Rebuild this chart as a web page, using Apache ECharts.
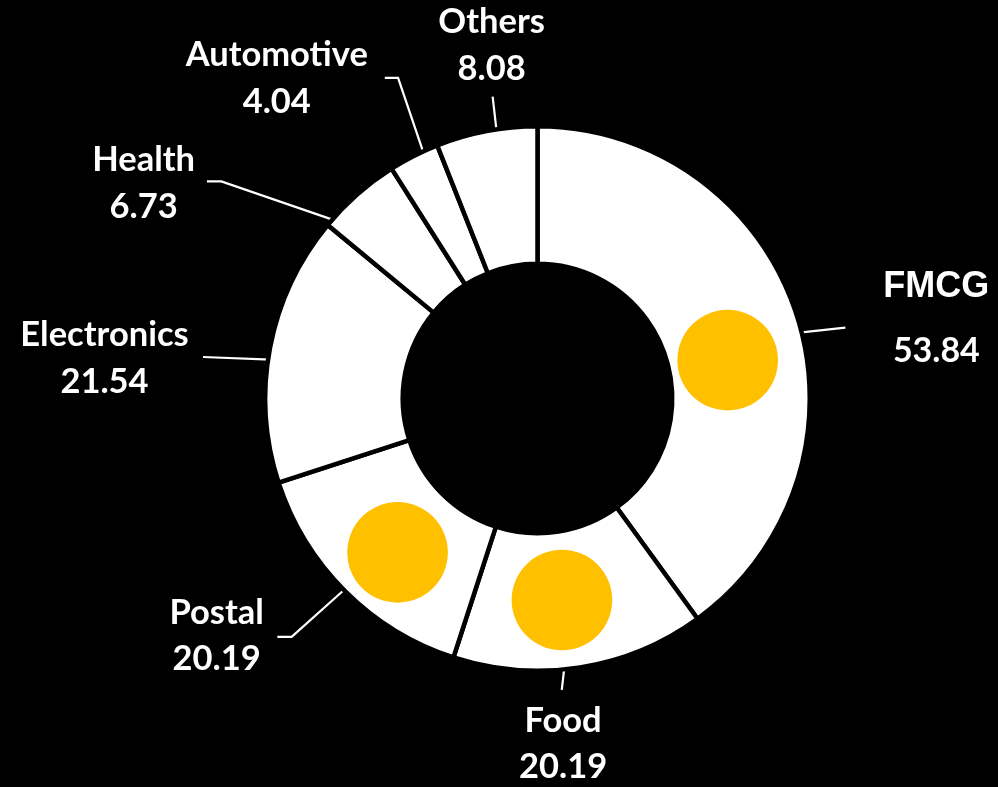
<!DOCTYPE html>
<html><head><meta charset="utf-8">
<script src="https://cdn.jsdelivr.net/npm/echarts@6/dist/echarts.min.js"></script>
<style>html,body{margin:0;padding:0;background:#000;}#c{width:998px;height:787px;}</style>
</head><body><div id="c"></div>
<script>
// ---- data ----
const categories = ['FMCG', 'Food', 'Postal', 'Electronics', 'Health', 'Automotive', 'Others'];
const values = [53.84, 20.19, 20.19, 21.54, 6.73, 4.04, 8.08];
const highlightedCategories = ['FMCG', 'Food', 'Postal'];

// ---- layout / style ----
const CX = 537.5, CY = 398.5, R_OUT = 270, R_IN = 137, BORDER = 4.5;
const labelGeom = {
  FMCG:        { shift: 3.9,  bend: [46, -5],      h: 0,     off: [91, -9] },
  Food:        { shift: 3.3,  bend: [-2.6, 22.7],  h: 0,     off: [1.3, 54] },
  Postal:      { shift: 0.3,  bend: [-54, 48.4],   h: -14.3, off: [-60.7, -1] },
  Electronics: { shift: -2.5, bend: [-67.3, -2.6], h: 0,     off: [-98.5, 1.3] },
  Health:      { shift: -7.3, bend: [-113.3, -39], h: -14.4, off: [-63.3, 1.8] },
  Automotive:  { shift: 2.1,  bend: [-25.7, -75.7],h: -13.3, off: [-108, 0.3] },
  Others:      { shift: 2.1,  bend: [-4, -35],     h: 0,     off: [-1, -51] }
};
const dotGeom = {
  FMCG:   { shift: 6.6,  dist: 194 },
  Food:   { shift: 2.1,  dist: 203 },
  Postal: { shift: -2.7, dist: 208 }
};

const total = values.reduce((a, b) => a + b, 0);
const midAngles = [];
let cum = 0;
values.forEach(v => { midAngles.push((cum + v / 2) / total * 360); cum += v; });
function pt(angDeg, dist) {
  const a = angDeg * Math.PI / 180;
  return [CX + dist * Math.sin(a), CY - dist * Math.cos(a)];
}

const chart = echarts.init(document.getElementById('c'), null, { renderer: 'canvas' });

const baseText = { fontFamily: 'Lato', fontWeight: 'bold', fontSize: 34.5, color: '#ffffff', lineHeight: 46.5 };

const seriesData = categories.map((name, i) => {
  const item = { name: name, value: values[i] };
  if (name === 'FMCG') {
    item.label = {
      formatter: p => '{fn|' + p.name + '}\n{fv|' + p.value.toFixed(2) + '}'
    };
  }
  return item;
});

const dots = highlightedCategories.map(name => {
  const i = categories.indexOf(name);
  const g = dotGeom[name];
  const c = pt(midAngles[i] + g.shift, g.dist);
  return { type: 'circle', z: 100, silent: true, shape: { cx: c[0], cy: c[1], r: 50.3 }, style: { fill: '#FFC000' } };
});

chart.setOption({
  backgroundColor: '#000000',
  animation: false,
  graphic: { elements: dots },
  series: [{
    type: 'pie',
    center: [CX, CY],
    radius: [R_IN - BORDER / 2, R_OUT + BORDER / 2],
    startAngle: 90,
    clockwise: true,
    avoidLabelOverlap: false,
    silent: true,
    emphasis: { disabled: true },
    itemStyle: { color: '#ffffff', borderColor: '#000000', borderWidth: BORDER },
    label: {
      show: true,
      position: 'outside',
      formatter: p => '{n|' + p.name + '}\n{v|' + p.value.toFixed(2) + '}',
      rich: {
        n: baseText,
        v: baseText,
        fn: { fontFamily: 'Liberation Sans', fontWeight: 'bold', fontSize: 36, color: '#ffffff', lineHeight: 64 },
        fv: Object.assign({}, baseText, { fontSize: 34, lineHeight: 64 })
      }
    },
    labelLine: { show: true, length: 20, length2: 10, lineStyle: { color: '#ffffff', width: 2.2 } },
    labelLayout: function (params) {
      const i = params.dataIndex;
      const g = labelGeom[categories[i]];
      const p0 = pt(midAngles[i] + g.shift, R_OUT);
      const p1 = [p0[0] + g.bend[0], p0[1] + g.bend[1]];
      const p2 = [p1[0] + g.h, p1[1]];
      return {
        x: p2[0] + g.off[0],
        y: p2[1] + g.off[1],
        align: 'center',
        verticalAlign: 'middle',
        labelLinePoints: [p0, p1, p2]
      };
    },
    data: seriesData
  }]
});
</script>
</body></html>
